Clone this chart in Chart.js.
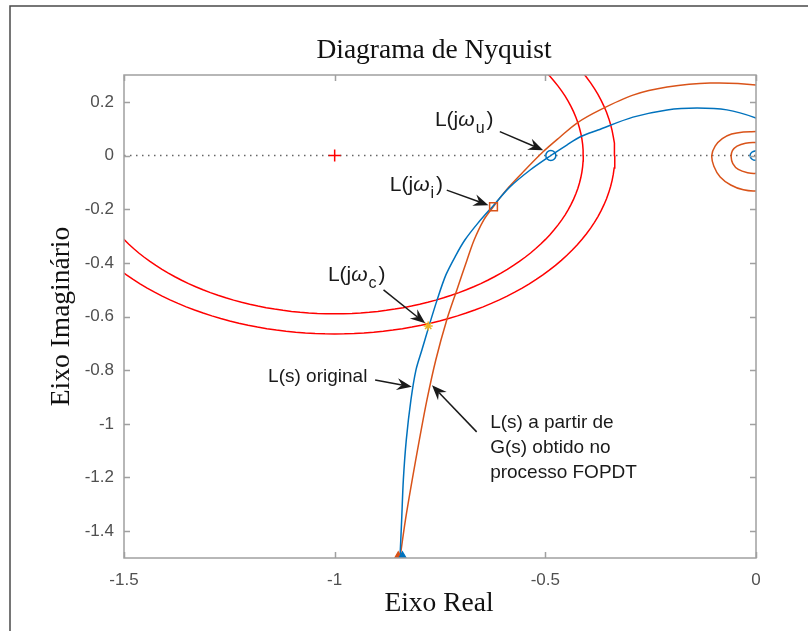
<!DOCTYPE html>
<html>
<head>
<meta charset="utf-8">
<script src="https://cdn.jsdelivr.net/npm/chart.js@4.4.0/dist/chart.umd.min.js"></script>
<style>
  html, body { margin: 0; padding: 0; background: #fff; }
  canvas { display: block; }
</style>
</head>
<body>
<canvas id="nyquist" width="808" height="631"></canvas>
<script>
// L(s) original: real / imaginary parts
const originalRe = [-0.845, -0.841, -0.837, -0.830, -0.819, -0.807, -0.793, -0.776, -0.757, -0.736,
  -0.712, -0.691, -0.660, -0.622, -0.584, -0.536, -0.487, -0.449, -0.418, -0.375, -0.292, -0.211,
  -0.140, -0.069, 0.000, 0.040, 0.070, 0.070, 0.040, 0.010, 0.000, -0.010, -0.014, -0.010, 0.000, 0.008];
const originalIm = [-1.500, -1.358, -1.209, -1.060, -0.911, -0.799, -0.725, -0.635, -0.539, -0.445,
  -0.371, -0.315, -0.252, -0.184, -0.117, -0.054, 0.000, 0.039, 0.069, 0.095, 0.143, 0.170,
  0.177, 0.170, 0.140, 0.110, 0.050, -0.010, -0.040, 0.020, 0.018, 0.012, 0.000, -0.013, -0.018, -0.012];

// L(s) a partir de G(s) FOPDT
const fopdtRe = [-0.845, -0.832, -0.816, -0.799, -0.781, -0.760, -0.734, -0.710, -0.686, -0.669,
  -0.646, -0.624, -0.593, -0.555, -0.506, -0.465, -0.425, -0.370, -0.292, -0.211, -0.109, 0.000,
  0.060, 0.100, 0.100, 0.040, 0.000, -0.030, -0.058, -0.080, -0.097, -0.105, -0.100, -0.085, -0.060,
  -0.030, 0.000, 0.040, 0.070, 0.070, 0.040, 0.000, -0.025, -0.045, -0.056, -0.059, -0.055, -0.042,
  -0.020, 0.000, 0.020, 0.020, 0.000];
const fopdtIm = [-1.500, -1.358, -1.209, -1.060, -0.911, -0.762, -0.613, -0.501, -0.390, -0.315,
  -0.240, -0.192, -0.129, -0.065, 0.013, 0.069, 0.121, 0.170, 0.225, 0.255, 0.270, 0.263,
  0.240, 0.170, 0.110, 0.093, 0.089, 0.088, 0.080, 0.063, 0.035, 0.000, -0.040, -0.080, -0.110,
  -0.128, -0.132, -0.120, -0.070, 0.000, 0.040, 0.048, 0.046, 0.035, 0.018, -0.005, -0.030, -0.052,
  -0.064, -0.066, -0.050, -0.010, 0.005];

// Ms circles around the critical point
const criticalPoint = [-1, 0];
const circleRadii = [0.59, 0.665];

// marked frequencies
const pointWu = [-0.487, 0.000];
const pointWi = [-0.623, -0.191];
const pointWc = [-0.778, -0.635];
const arrowOriginal = [-0.839, -1.5];
const arrowFopdt = [-0.849, -1.5];

const xTicks = [-1.5, -1, -0.5, 0];
const yTicks = [-1.4, -1.2, -1, -0.8, -0.6, -0.4, -0.2, 0, 0.2];

const BLUE = '#0072BD';
const ORANGE = '#D95319';
const RED = '#FF0000';
const YELLOW = '#EDB120';

const toPoints = (re, im) => re.map((x, i) => ({ x: x, y: im[i] }));

function circlePoints(c, r) {
  const pts = [];
  for (let a = 0; a <= 360; a += 2) {
    const t = a * Math.PI / 180;
    pts.push({ x: c[0] + r * Math.cos(t), y: c[1] + r * Math.sin(t) });
  }
  return pts;
}

// frequency labels with their arrows (data coordinates)
const labels = [
  { x: -0.762, y: 0.132, main: 'L(j', greek: 'ω', sub: 'u', tail: [-0.608, 0.089], tip: [-0.505, 0.020] },
  { x: -0.869, y: -0.110, main: 'L(j', greek: 'ω', sub: 'i', tail: [-0.734, -0.129], tip: [-0.635, -0.185] },
  { x: -1.016, y: -0.445, main: 'L(j', greek: 'ω', sub: 'c', tail: [-0.884, -0.501], tip: [-0.785, -0.625] }
];
const notes = [
  { x: -1.158, y: -0.825, lines: ['L(s) original'], tail: [-0.904, -0.837], tip: [-0.817, -0.862] },
  { x: -0.631, y: -0.997, lines: ['L(s) a partir de', 'G(s) obtido no', 'processo FOPDT'],
    tail: [-0.663, -1.030], tip: [-0.769, -0.856] }
];

const SANS = '"Liberation Sans", Arial, sans-serif';
const SERIF = '"Liberation Serif", "Times New Roman", serif';

function drawArrow(ctx, x1, y1, x2, y2) {
  const a = Math.atan2(y2 - y1, x2 - x1);
  const c = Math.cos(a), s = Math.sin(a);
  const L = 15, W = 6, N = 10;
  ctx.beginPath();
  ctx.moveTo(x1, y1);
  ctx.lineTo(x2 - N * c, y2 - N * s);
  ctx.stroke();
  ctx.beginPath();
  ctx.moveTo(x2, y2);
  ctx.lineTo(x2 - L * c + W * s, y2 - L * s - W * c);
  ctx.lineTo(x2 - N * c, y2 - N * s);
  ctx.lineTo(x2 - L * c - W * s, y2 - L * s + W * c);
  ctx.closePath();
  ctx.fill();
}

const decorations = {
  id: 'decorations',
  beforeDraw(chart) {
    const ctx = chart.ctx;
    ctx.save();
    ctx.fillStyle = '#fff';
    ctx.fillRect(0, 0, chart.width, chart.height);
    // figure frame
    ctx.strokeStyle = '#4a4a4a';
    ctx.lineWidth = 1.5;
    ctx.beginPath();
    ctx.moveTo(10, chart.height);
    ctx.lineTo(10, 6);
    ctx.lineTo(chart.width, 6);
    ctx.stroke();
    ctx.restore();
  },
  afterDatasetsDraw(chart) {
    const ctx = chart.ctx;
    const { left, right, top, bottom } = chart.chartArea;
    const xs = chart.scales.x, ys = chart.scales.y;
    ctx.save();
    ctx.strokeStyle = '#a0a0a0';
    ctx.lineWidth = 1.5;
    ctx.strokeRect(left, top, right - left, bottom - top);
    ctx.beginPath();
    xTicks.forEach(v => {
      const p = Math.round(xs.getPixelForValue(v)) + 0.5;
      ctx.moveTo(p, bottom); ctx.lineTo(p, bottom - 6);
      ctx.moveTo(p, top); ctx.lineTo(p, top + 6);
    });
    yTicks.forEach(v => {
      const p = Math.round(ys.getPixelForValue(v)) + 0.5;
      ctx.moveTo(left, p); ctx.lineTo(left + 6, p);
      ctx.moveTo(right, p); ctx.lineTo(right - 6, p);
    });
    ctx.stroke();
    ctx.restore();
  },
  afterDraw(chart) {
    const ctx = chart.ctx;
    const xs = chart.scales.x, ys = chart.scales.y;
    const { left, right, top, bottom } = chart.chartArea;
    ctx.save();
    ctx.fillStyle = '#111';
    ctx.textAlign = 'center';
    ctx.textBaseline = 'middle';
    ctx.font = '27.5px ' + SERIF;
    ctx.fillText('Diagrama de Nyquist', 434, 51);
    ctx.fillText('Eixo Real', (left + right) / 2 - 1, 604);
    ctx.save();
    ctx.translate(62, (top + bottom) / 2);
    ctx.rotate(-Math.PI / 2);
    ctx.fillText('Eixo Imaginário', 0, 0);
    ctx.restore();

    ctx.fillStyle = '#1a1a1a';
    ctx.strokeStyle = '#1a1a1a';
    ctx.lineWidth = 1.5;
    ctx.textAlign = 'left';
    labels.forEach(l => {
      let x = xs.getPixelForValue(l.x);
      const y = ys.getPixelForValue(l.y);
      ctx.font = '21px ' + SANS;
      ctx.fillText(l.main, x, y);
      x += ctx.measureText(l.main).width;
      ctx.font = 'italic 21px ' + SANS;
      ctx.fillText(l.greek, x, y);
      x += ctx.measureText(l.greek).width + 1;
      ctx.font = '16px ' + SANS;
      ctx.fillText(l.sub, x, y + 9);
      x += ctx.measureText(l.sub).width + 2;
      ctx.font = '21px ' + SANS;
      ctx.fillText(')', x, y);
      drawArrow(ctx, xs.getPixelForValue(l.tail[0]), ys.getPixelForValue(l.tail[1]),
        xs.getPixelForValue(l.tip[0]), ys.getPixelForValue(l.tip[1]));
    });
    ctx.font = '19px ' + SANS;
    notes.forEach(n => {
      const x = xs.getPixelForValue(n.x);
      const y = ys.getPixelForValue(n.y);
      n.lines.forEach((t, i) => ctx.fillText(t, x, y + i * 25));
      drawArrow(ctx, xs.getPixelForValue(n.tail[0]), ys.getPixelForValue(n.tail[1]),
        xs.getPixelForValue(n.tip[0]), ys.getPixelForValue(n.tip[1]));
    });
    ctx.restore();
  }
};

const lineStyle = { showLine: true, pointRadius: 0, borderWidth: 1.5, tension: 0.3, fill: false };
const marker = (pt, style, color, radius, order) => ({
  data: [{ x: pt[0], y: pt[1] }], showLine: false, pointStyle: style, pointRadius: radius,
  pointBorderColor: color, pointBackgroundColor: 'rgba(0,0,0,0)', pointBorderWidth: 1.5, order: order
});

const datasets = [
  marker(pointWu, 'circle', BLUE, 5, 0),
  marker(pointWi, 'rect', ORANGE, 5.5, 0),
  marker(pointWc, 'star', YELLOW, 4.5, 0),
  marker(criticalPoint, 'cross', RED, 6, 0),
  Object.assign(marker(arrowOriginal, 'triangle', BLUE, 6, 1), { pointBackgroundColor: BLUE }),
  Object.assign(marker(arrowFopdt, 'triangle', ORANGE, 6, 1), { pointBackgroundColor: ORANGE }),
  Object.assign({ data: toPoints(originalRe, originalIm), borderColor: BLUE, order: 2 }, lineStyle),
  Object.assign({ data: toPoints(fopdtRe, fopdtIm), borderColor: ORANGE, order: 3 }, lineStyle),
  Object.assign({ data: circlePoints(criticalPoint, circleRadii[0]), borderColor: RED, order: 4 }, lineStyle, { tension: 0 }),
  Object.assign({ data: circlePoints(criticalPoint, circleRadii[1]), borderColor: RED, order: 4 }, lineStyle, { tension: 0 }),
  { data: [{ x: -1.5, y: 0 }, { x: 0, y: 0 }], showLine: true, pointRadius: 0, borderColor: '#666',
    borderWidth: 1.5, borderDash: [1.5, 4.5], order: 5 }
];

new Chart(document.getElementById('nyquist'), {
  type: 'scatter',
  data: { datasets: datasets },
  options: {
    responsive: false,
    animation: false,
    events: [],
    layout: { padding: { top: 75, right: 52, left: 0, bottom: 0 } },
    plugins: { legend: { display: false }, tooltip: { enabled: false } },
    scales: {
      x: {
        type: 'linear', min: -1.5, max: 0,
        afterFit: s => { s.height = 73; },
        afterBuildTicks: s => { s.ticks = xTicks.map(v => ({ value: v })); },
        grid: { display: false, drawTicks: false },
        border: { display: false },
        ticks: { padding: 12, color: '#505050', font: { family: SANS, size: 17 },
          maxRotation: 0, callback: v => String(v) }
      },
      y: {
        type: 'linear', min: -1.5, max: 0.3,
        afterFit: s => { s.width = 124; },
        afterBuildTicks: s => { s.ticks = yTicks.map(v => ({ value: v })); },
        grid: { display: false, drawTicks: false },
        border: { display: false },
        ticks: { padding: 10, color: '#505050', font: { family: SANS, size: 17 },
          callback: v => String(Math.round(v * 10) / 10) }
      }
    }
  },
  plugins: [decorations]
});
</script>
</body>
</html>
